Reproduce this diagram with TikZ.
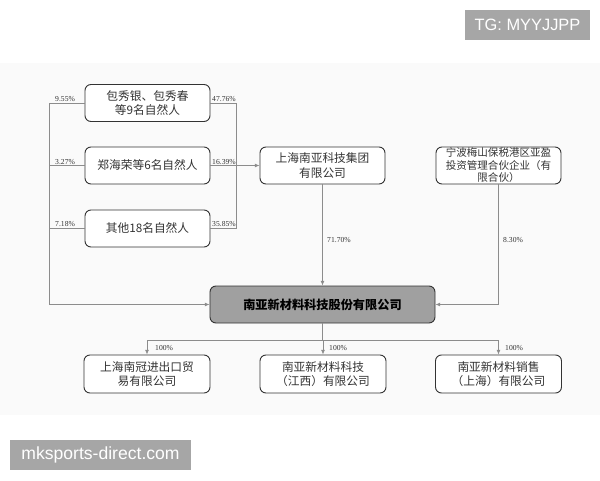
\documentclass[tikz,border=0pt]{standalone}
\usepackage{fontspec}
\setmainfont{Noto Sans CJK SC}
\newfontfamily\numfont{Liberation Serif}
\newfontfamily\markfont{Liberation Sans}
\usetikzlibrary{arrows.meta}
\definecolor{ChartPanel}{HTML}{FAFAFA}
\definecolor{ChartInk}{HTML}{333333}
\definecolor{ChartLine}{HTML}{8C8C8C}
\definecolor{ChartFill}{HTML}{A0A0A0}
\definecolor{StampGray}{HTML}{A6A6A6}

\begin{document}
\begin{tikzpicture}[x=0.03cm,y=-0.03cm,
  holder/.style={draw=ChartInk,line width=0.8pt,rounded corners=0.18cm,fill=white,
    minimum width=3.75cm,minimum height=1.11cm,inner sep=0pt,align=center,
    text=ChartInk,font=\fontsize{10}{12.5}\selectfont},
  wire/.style={ChartLine,line width=0.6pt},
  arr/.style={-{Latex[length=4pt,width=3.4pt]},shorten >=0pt},
  pct/.style={anchor=west,inner sep=0pt,text=ChartInk,font=\numfont\fontsize{6.5}{7}\selectfont},
  stamp/.style={fill=StampGray,text=white,inner sep=0pt,minimum height=0.9cm}]
  \useasboundingbox (0,0) rectangle (600,480);
  \fill[ChartPanel] (0,63) rectangle (600,415);

  % shareholders of the group
  \foreach \y/\name/\txt in {
    103/nine/{包秀银、包秀春\\等9名自然人},
    165.5/six/{郑海荣等6名自然人},
    228.5/rest/{其他18名自然人}}
  {
    \node[holder] (\name) at (147.5,\y) {\txt};
  }
  \node[holder] (group) at (322.5,165.5) {上海南亚科技集团\\有限公司};
  \node[holder,font=\fontsize{9}{10.7}\selectfont] (yaying) at (498.5,165.5)
    {宁波梅山保税港区亚盈\\投资管理合伙企业（有\\限合伙）};
  \node[holder,fill=ChartFill,text=black,minimum width=6.75cm,
    font=\fontsize{10.4}{12}\selectfont\bfseries] (main) at (322.5,304.5) {南亚新材料科技股份有限公司};

  % subsidiaries
  \foreach \x/\name/\txt in {
    147/trade/{上海南冠进出口贸\\易有限公司},
    323/jiangxi/{南亚新材料科技\\（江西）有限公司},
    498.5/sales/{南亚新材料销售\\（上海）有限公司}}
  {
    \node[holder,minimum width=3.78cm,minimum height=1.14cm] (\name) at (\x,374) {\txt};
  }

  \coordinate (trunkL) at (49,0);
  \coordinate (trunkR) at (236,0);
  \coordinate (bus) at (0,340);

  \draw[wire] (nine.west) -- (trunkL |- nine.west) -- (trunkL |- main.west);
  \draw[wire,arr] (trunkL |- main.west) -- (main.west);
  \draw[wire] (six.west) -- (trunkL |- six.west);
  \draw[wire] (rest.west) -- (trunkL |- rest.west);
  \draw[wire] (nine.east) -- (trunkR |- nine.east) -- (trunkR |- rest.east) -- (rest.east);
  \draw[wire,arr] (six.east) -- (group.west);
  \draw[wire,arr] (group.south) -- (main.north);
  \draw[wire,arr] (yaying.south) |- (main.east);

  \draw[wire] (main.south) -- (main.south |- bus);
  \draw[wire] (trade.north |- bus) -- (sales.north |- bus);
  \foreach \name in {trade,jiangxi,sales}
    \draw[wire,arr] (\name.north |- bus) -- (\name.north);

  % shares
  \foreach \x/\y/\name/\val in {
    55/99/pa/{9.55\%}, 55/162/pb/{3.27\%}, 55/224/pc/{7.18\%},
    212/99/pd/{47.76\%}, 212/162/pe/{16.39\%}, 212/224/pf/{35.85\%},
    327/240/pg/{71.70\%}, 503/240/ph/{8.30\%},
    155/348/pi/{100\%}, 329/348/pj/{100\%}, 505/348/pk/{100\%}}
  {
    \node[pct] (\name) at (\x,\y) {\val};
  }

  \node[stamp,minimum width=3.75cm,font=\markfont\fontsize{14}{16}\selectfont] (tg) at (527.5,25) {TG: MYYJJPP};
  \node[stamp,minimum width=5.43cm,font=\markfont\fontsize{15}{17}\selectfont] (site) at (100.5,455) {mksports-direct.com};
\end{tikzpicture}
\end{document}
